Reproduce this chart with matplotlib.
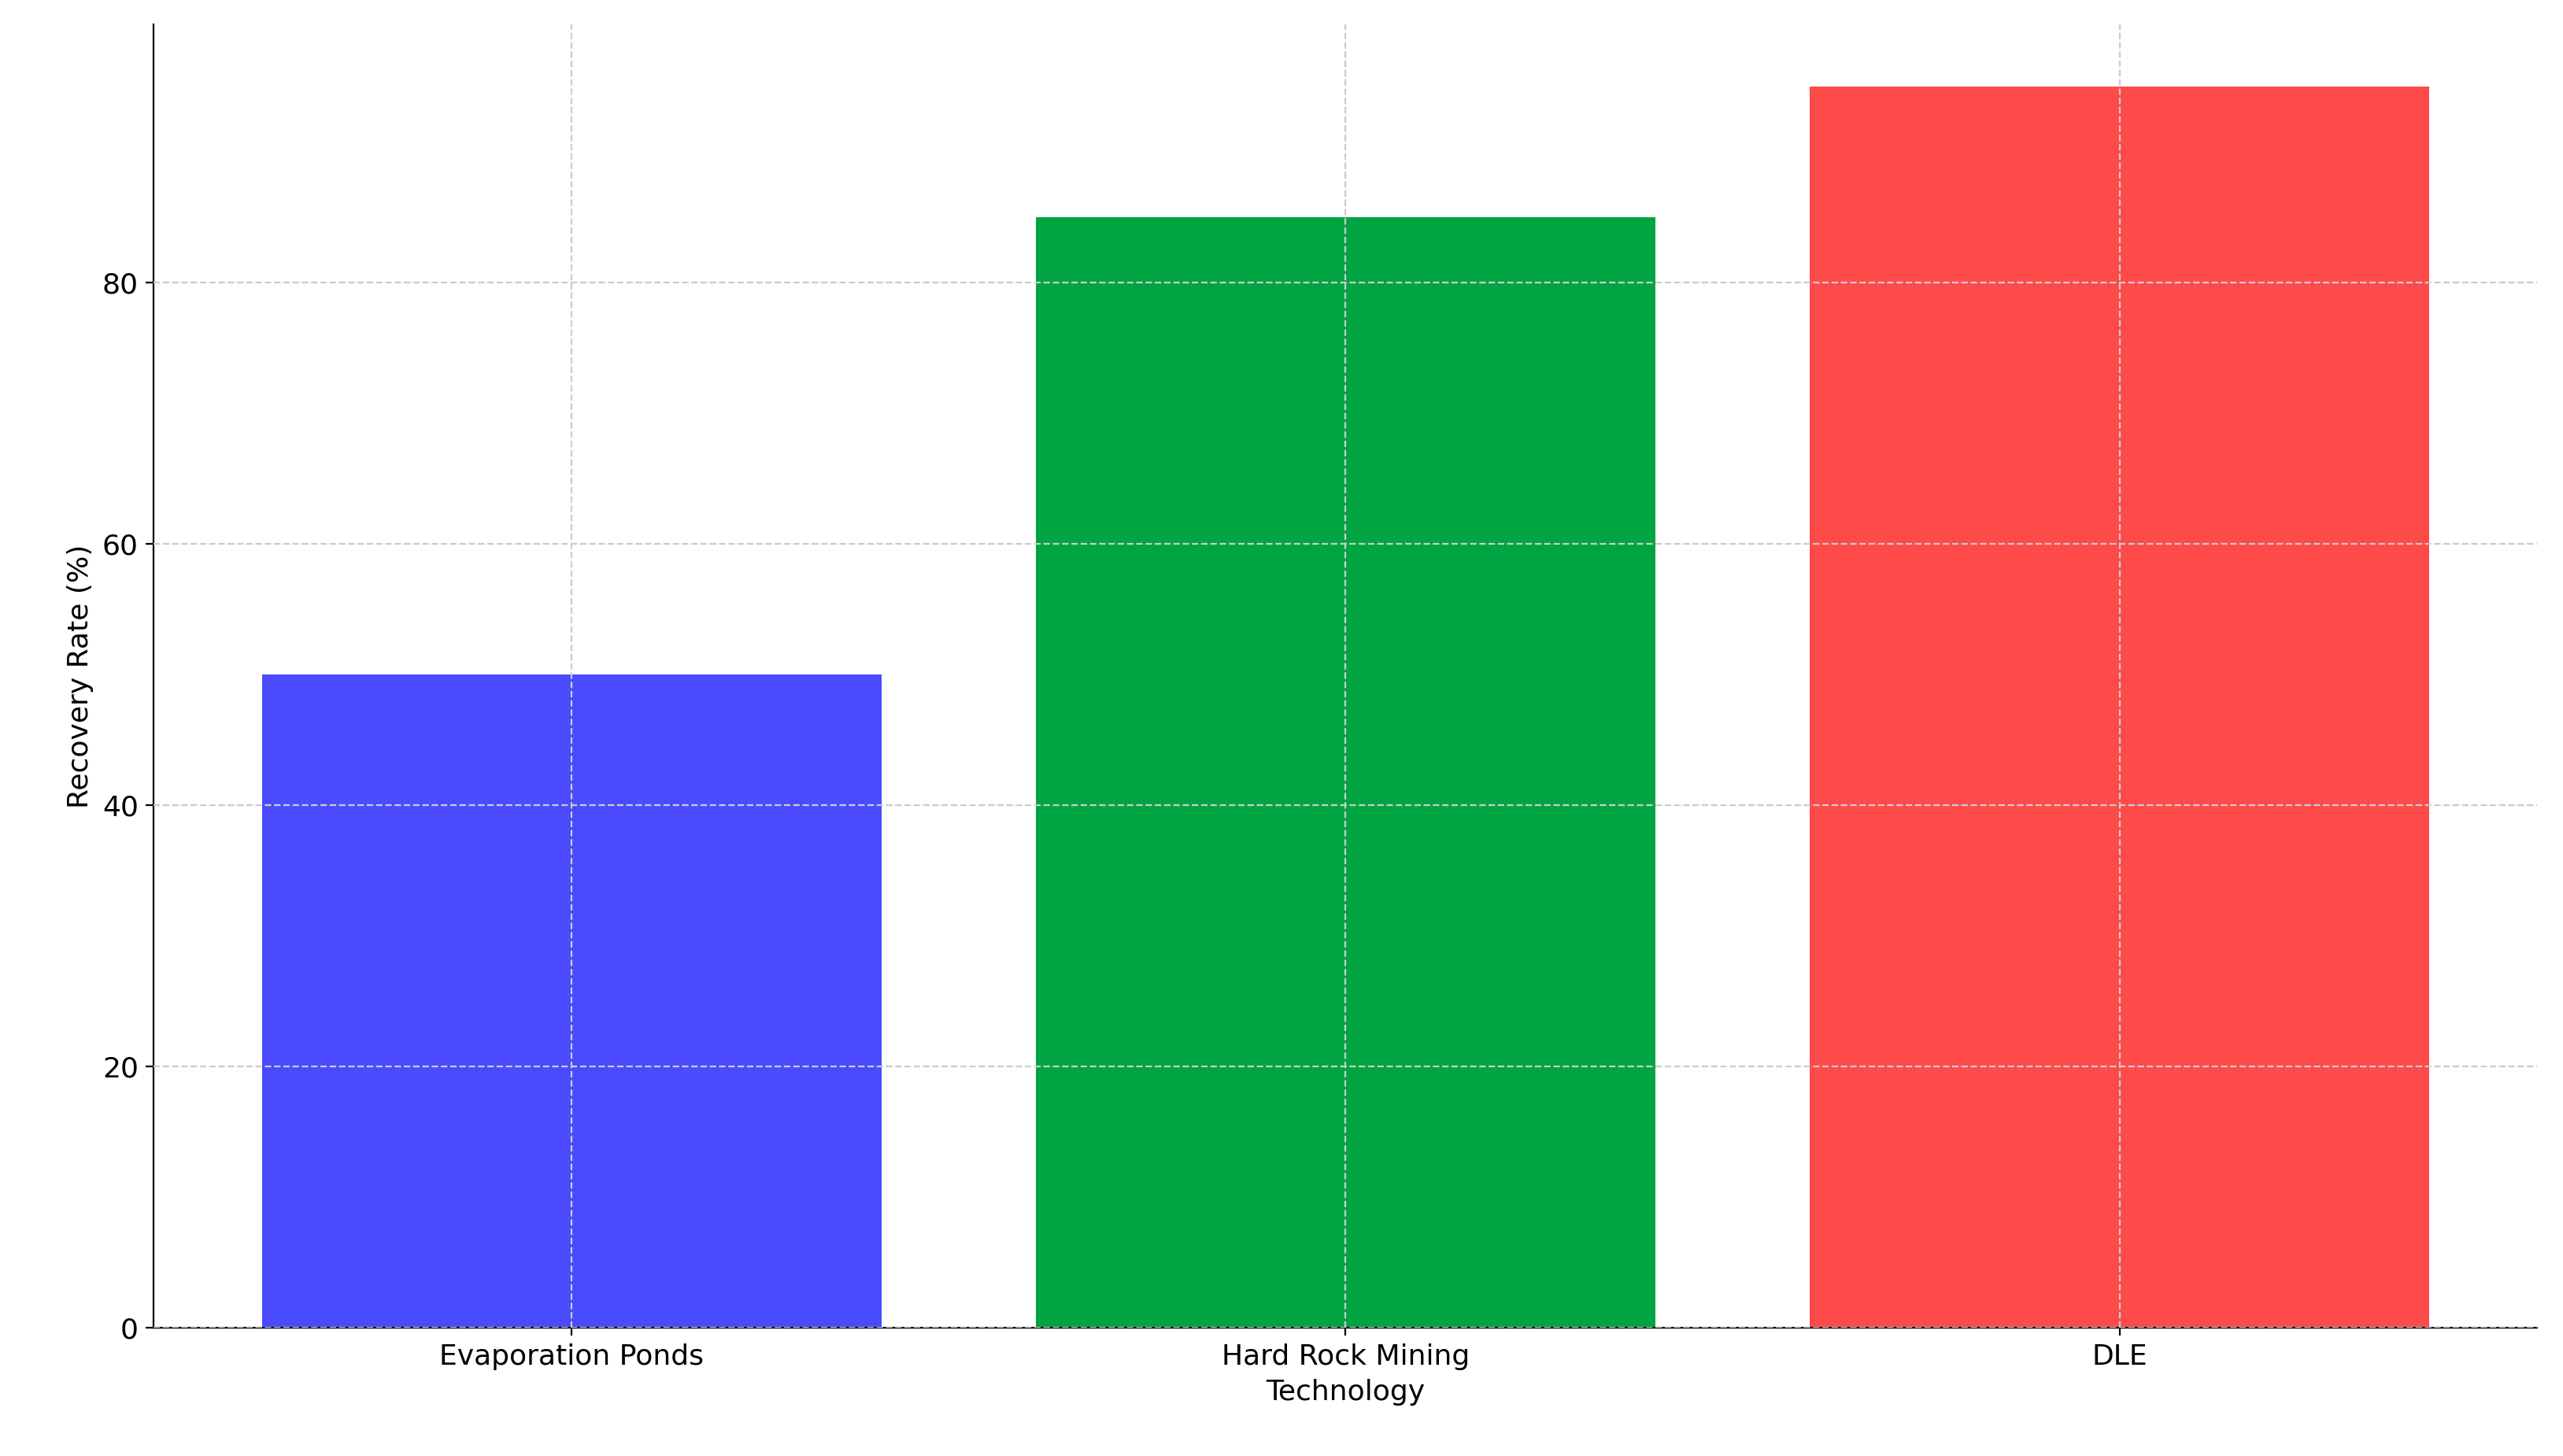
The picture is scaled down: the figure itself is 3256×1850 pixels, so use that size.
import matplotlib
matplotlib.use("Agg")
import matplotlib.pyplot as plt

# data
technologies = ["Evaporation Ponds", "Hard Rock Mining", "DLE"]
recovery_rates = [50, 85, 95]
bar_colors = ["#4a4aff", "#00a542", "#ff4a4a"]

fig = plt.figure(figsize=(16.28, 9.25), dpi=200)
ax = fig.add_axes([0.06, 0.088, 0.93, 0.895])

ax.bar(technologies, recovery_rates, color=bar_colors, width=0.8)
ax.set_ylim(0, 99.75)
ax.set_xlim(-0.54, 2.54)
ax.set_xlabel("Technology", fontsize=13)
ax.set_ylabel("Recovery Rate (%)", fontsize=13)
ax.tick_params(labelsize=13)
ax.grid(True, linestyle="--", color="#cccccc", linewidth=0.8)
ax.set_axisbelow(False)
for s in ["top", "right"]:
    ax.spines[s].set_visible(False)

fig.savefig("out.png")
